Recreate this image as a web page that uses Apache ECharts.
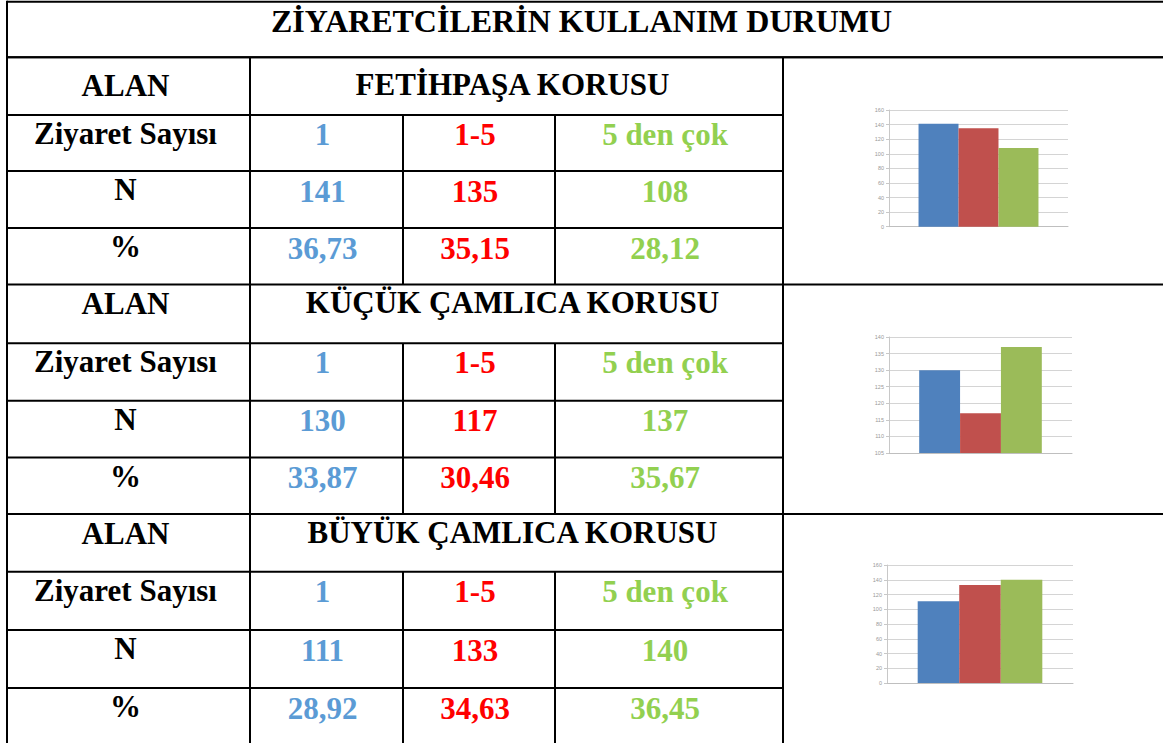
<!DOCTYPE html>
<html>
<head>
<meta charset="utf-8">
<script src="https://cdn.jsdelivr.net/npm/echarts@6/dist/echarts.min.js"></script>
<style>
html,body{margin:0;padding:0;background:#fff;}
#main{width:1163px;height:743px;}
</style>
</head>
<body>
<div id="main"></div>
<script>
// ---- data ----
const title = 'ZİYARETCİLERİN KULLANIM DURUMU';
const rowLabels = ['ALAN', 'Ziyaret Sayısı', 'N', '%'];
const areas = ['FETİHPAŞA KORUSU', 'KÜÇÜK ÇAMLICA KORUSU', 'BÜYÜK ÇAMLICA KORUSU'];
const categories = ['1', '1-5', '5 den çok'];
const fetihpasaN = [141, 135, 108];
const fetihpasaPct = ['36,73', '35,15', '28,12'];
const kucukN = [130, 117, 137];
const kucukPct = ['33,87', '30,46', '35,67'];
const buyukN = [111, 133, 140];
const buyukPct = ['28,92', '34,63', '36,45'];
const axisRanges = [[0, 160, 20], [105, 140, 5], [0, 160, 20]];

// ---- layout / style ----
const sectionsN = [fetihpasaN, kucukN, buyukN];
const sectionsPct = [fetihpasaPct, kucukPct, buyukPct];
const textColors = ['#5B9BD5', '#FF0000', '#92D050'];
const barColors = ['#4F81BD', '#C0504D', '#9BBB59'];
const colX = [7, 250, 403, 555, 783, 1164];
const topY = 1.7, titleBottom = 57.3;
const sectionRows = [
  [57.3, 115, 171, 228, 284.5],
  [284.5, 343.3, 400.7, 457.5, 514],
  [514, 571.7, 630, 688, 745]
];
const headerOffset = [28.5, 19, 19];
const grids = [
  {left: 889, top: 110, width: 179, height: 116.7},
  {left: 889, top: 337, width: 183, height: 116},
  {left: 887, top: 565, width: 186, height: 118}
];
const FONT = 'bold 31px "Liberation Serif", "Times New Roman", serif';
const TITLE_FONT = 'bold 32px "Liberation Serif", "Times New Roman", serif';

const graphics = [];
function hline(y, x1, x2) {
  graphics.push({type: 'line', shape: {x1: x1, y1: y, x2: x2, y2: y}, style: {stroke: '#000', lineWidth: 2}, z: 10});
}
function vline(x, y1, y2) {
  graphics.push({type: 'line', shape: {x1: x, y1: y1, x2: x, y2: y2}, style: {stroke: '#000', lineWidth: 2}, z: 10});
}
function text(str, cx, cy, color, font) {
  graphics.push({type: 'text', x: cx, y: cy, style: {text: str, font: font || FONT, fill: color, align: 'center', verticalAlign: 'middle'}, z: 10});
}

// outer frame + title
hline(topY, colX[0], colX[5]);
hline(titleBottom, colX[0], colX[5]);
vline(colX[0], topY - 1, 745);
vline(colX[5], topY - 1, 745);
text(title, (colX[0] + colX[5]) / 2 - 4, topY + 19.5, '#000', TITLE_FONT);

sectionRows.forEach(function (rows, s) {
  hline(rows[0], colX[0], colX[5]);
  for (let r = 1; r < 4; r++) hline(rows[r], colX[0], colX[4]);
  vline(colX[1], rows[0], rows[4]);
  vline(colX[4], rows[0], rows[4]);
  vline(colX[2], rows[1], rows[4]);
  vline(colX[3], rows[1], rows[4]);
  // left labels
  text(rowLabels[0], (colX[0] + colX[1]) / 2 - 3, rows[0] + headerOffset[s], '#000');
  for (let r = 1; r < 4; r++) {
    text(rowLabels[r], (colX[0] + colX[1]) / 2 - 3, rows[r] + 18.5, '#000');
  }
  text(areas[s], (colX[1] + colX[4]) / 2 - 4, rows[0] + headerOffset[s] - 1, '#000');
  for (let c = 0; c < 3; c++) {
    const cx = (colX[c + 1] + colX[c + 2]) / 2 - 4;
    text(categories[c], cx, rows[1] + 19.5, textColors[c]);
    text(String(sectionsN[s][c]), cx, rows[2] + 20, textColors[c]);
    text(sectionsPct[s][c], cx, rows[3] + 20, textColors[c]);
  }
});

const gridOpts = [], xAxes = [], yAxes = [], series = [];
grids.forEach(function (g, i) {
  gridOpts.push({left: g.left, top: g.top, width: g.width, height: g.height, containLabel: false});
  xAxes.push({
    type: 'category', gridIndex: i, data: [areas[i]],
    axisLine: {show: true, lineStyle: {color: '#bfbfbf', width: 1}},
    axisTick: {show: false}, axisLabel: {show: false}
  });
  yAxes.push({
    type: 'value', gridIndex: i, min: axisRanges[i][0], max: axisRanges[i][1], interval: axisRanges[i][2],
    axisLine: {show: true, lineStyle: {color: '#c8c8c8', width: 1}},
    axisTick: {show: true, length: 3, lineStyle: {color: '#c8c8c8'}},
    axisLabel: {fontSize: 5.5, color: '#999', margin: 5, fontFamily: 'Liberation Sans'},
    splitLine: {show: true, lineStyle: {color: '#d4d4d4', width: 1}}
  });
  categories.forEach(function (cat, c) {
    series.push({
      type: 'bar', name: cat, xAxisIndex: i, yAxisIndex: i,
      data: [sectionsN[i][c]],
      barGap: '0%', barCategoryGap: '33%',
      itemStyle: {color: barColors[c]},
      animation: false
    });
  });
});

const chart = echarts.init(document.getElementById('main'), null, {renderer: 'svg'});
chart.setOption({
  animation: false,
  backgroundColor: '#fff',
  grid: gridOpts,
  xAxis: xAxes,
  yAxis: yAxes,
  series: series,
  graphic: graphics
});
</script>
</body>
</html>
